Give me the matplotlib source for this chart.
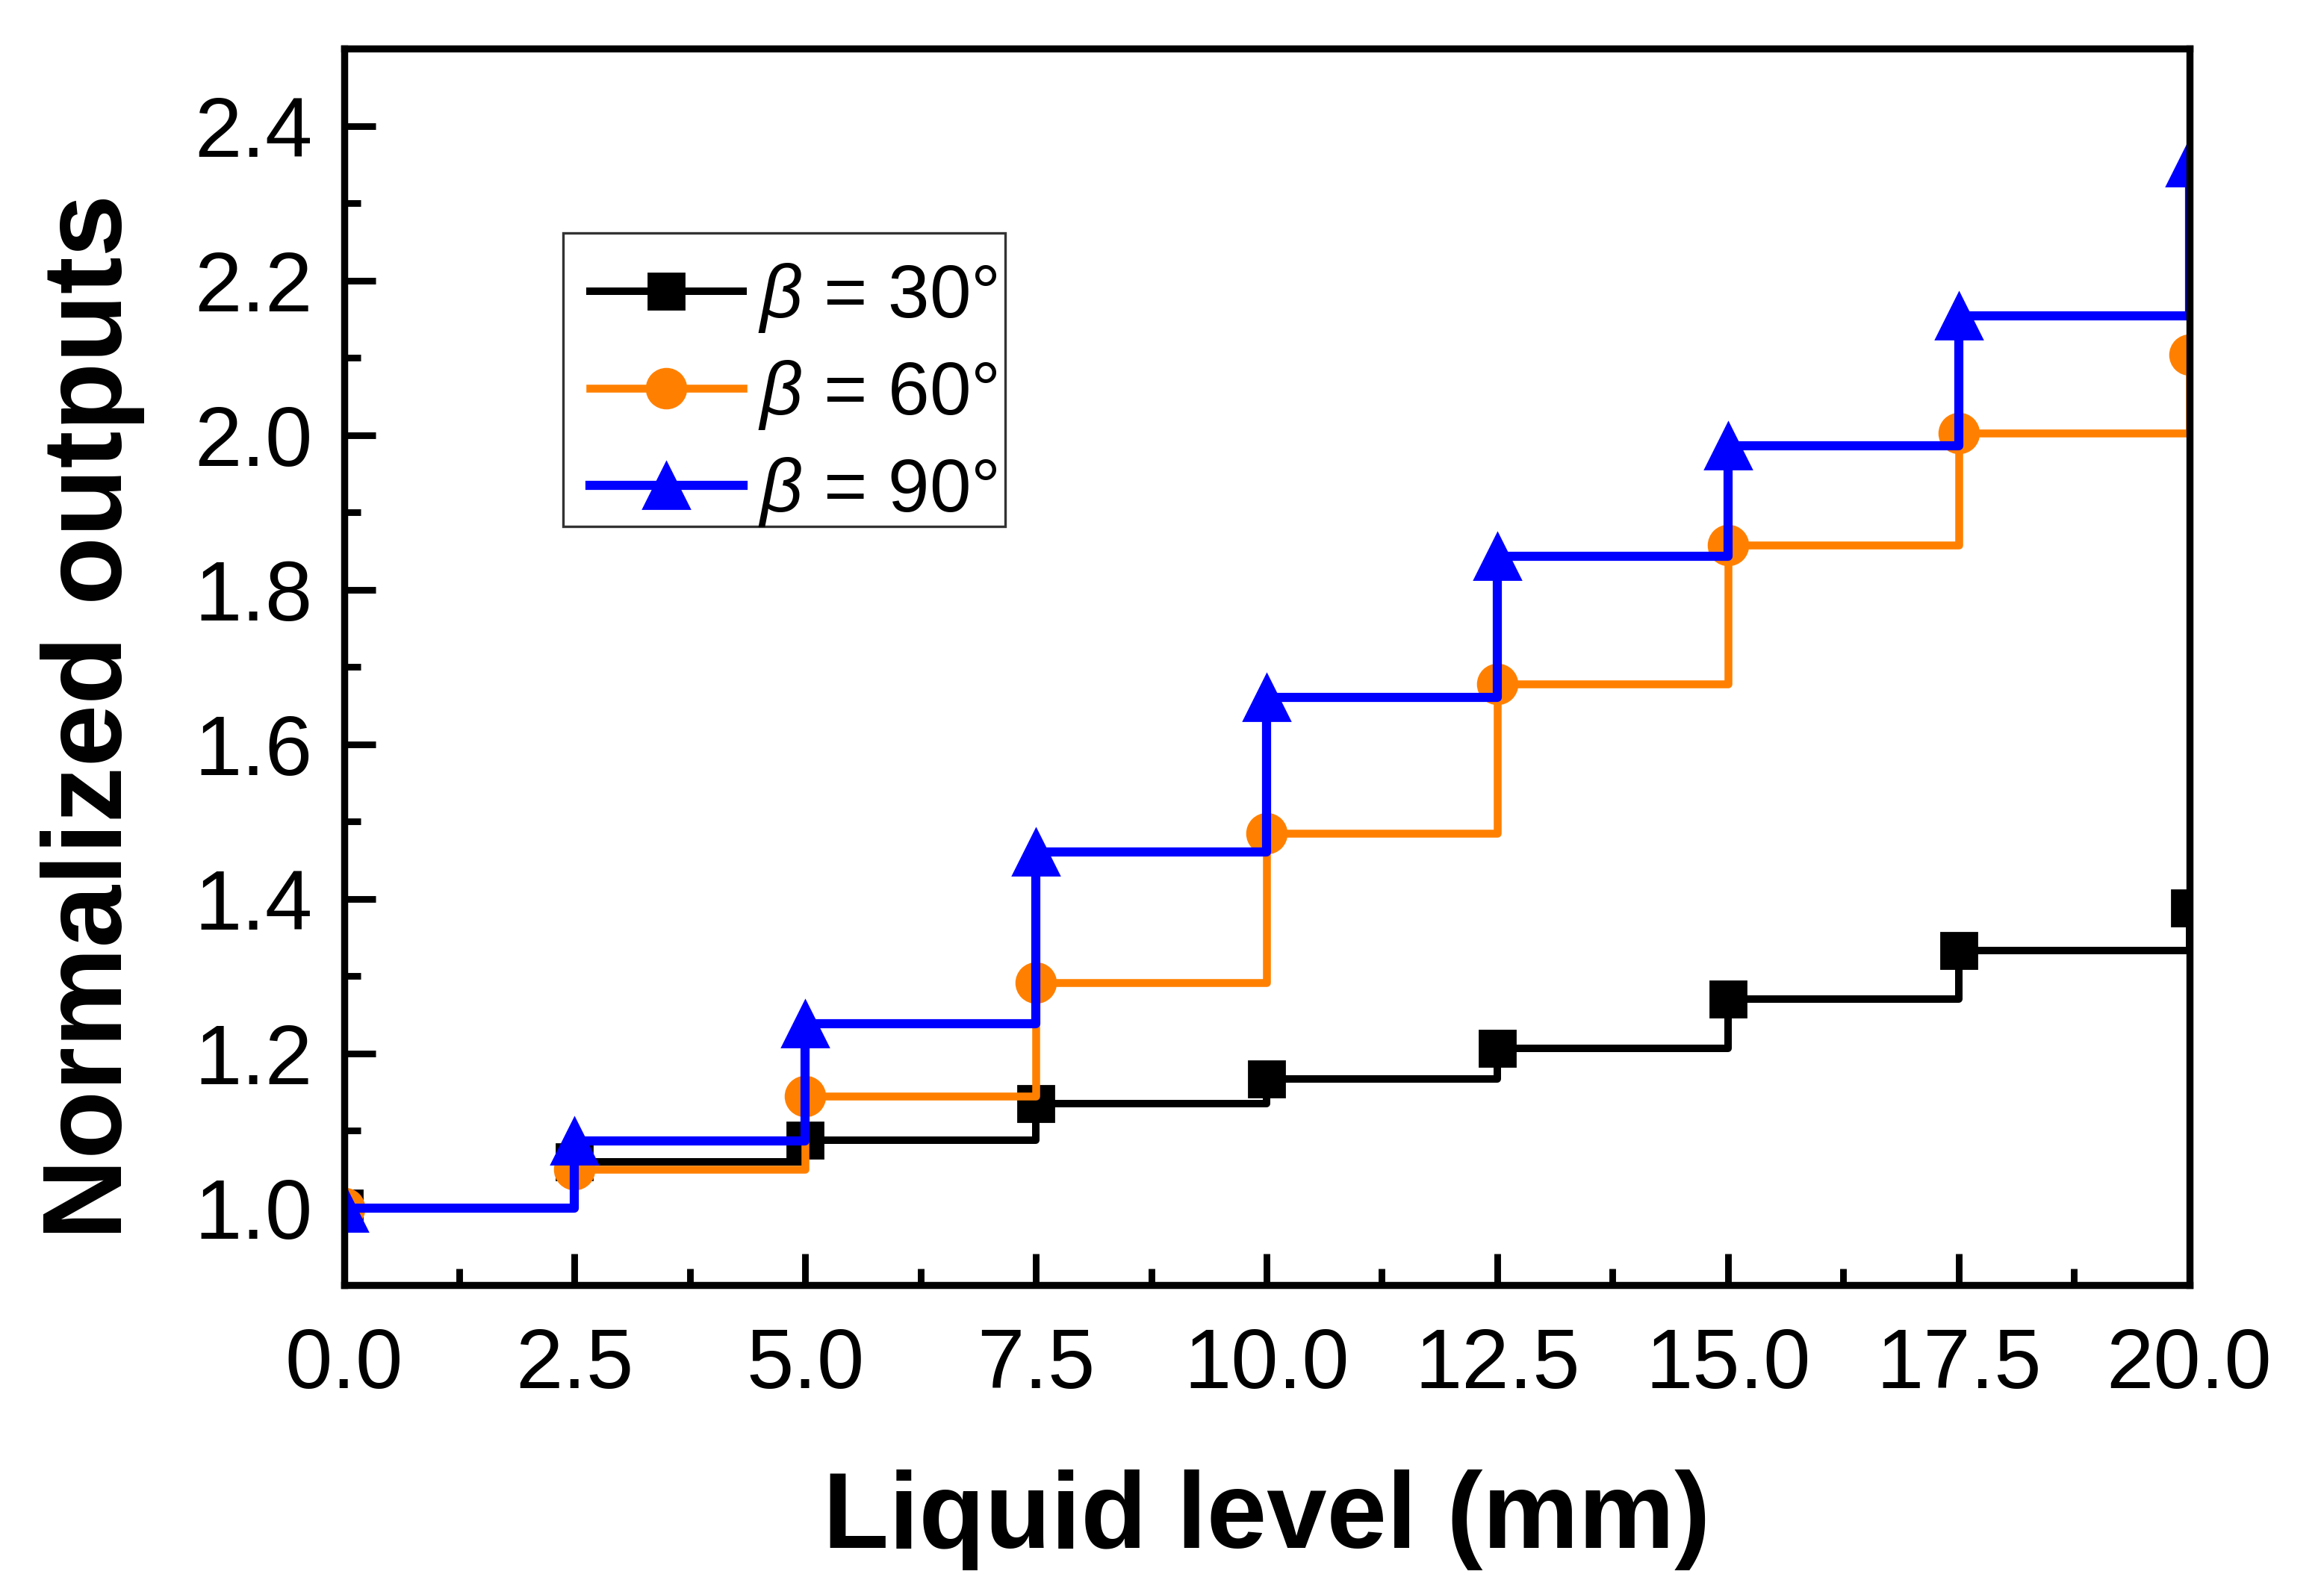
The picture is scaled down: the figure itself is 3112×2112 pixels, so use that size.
import matplotlib
matplotlib.use("Agg")
import matplotlib.pyplot as plt
from matplotlib.patches import Rectangle
from matplotlib.ticker import MultipleLocator, FormatStrFormatter

plt.rcParams['font.family'] = ['Liberation Sans', 'DejaVu Sans']
plt.rcParams['mathtext.fontset'] = 'custom'
plt.rcParams['mathtext.it'] = 'Liberation Sans:italic'
plt.rcParams['mathtext.rm'] = 'Liberation Sans'

# Data
liquid_level = [0.0, 2.5, 5.0, 7.5, 10.0, 12.5, 15.0, 17.5, 20.0]
beta30 = [1.000, 1.060, 1.088, 1.135, 1.167, 1.207, 1.270, 1.333, 1.388]
beta60 = [1.000, 1.050, 1.145, 1.292, 1.485, 1.678, 1.858, 2.003, 2.104]
beta90 = [1.000, 1.087, 1.238, 1.461, 1.661, 1.843, 1.986, 2.155, 2.353]
labels = [r'$\mathit{\beta}$ = 30°', r'$\mathit{\beta}$ = 60°', r'$\mathit{\beta}$ = 90°']
xticks = [0.0, 2.5, 5.0, 7.5, 10.0, 12.5, 15.0, 17.5, 20.0]
yticks = [1.0, 1.2, 1.4, 1.6, 1.8, 2.0, 2.2, 2.4]

fig = plt.figure(figsize=(15.56, 10.56), dpi=200)
ax = fig.add_axes([0.148, 0.185, 0.794, 0.784])

ax.plot(liquid_level, beta30, drawstyle='steps-post', color='black', lw=3.6,
        marker='s', ms=17, label=labels[0])
ax.plot(liquid_level, beta60, drawstyle='steps-post', color='#FF8000', lw=3.8,
        marker='o', ms=19, label=labels[1])
ax.plot(liquid_level, beta90, drawstyle='steps-post', color='#0000FF', lw=4.4,
        marker='^', ms=22, label=labels[2])

ax.set_xlim(0, 20)
ax.set_ylim(0.9, 2.5)
ax.set_xticks(xticks)
ax.set_yticks(yticks)
ax.xaxis.set_major_formatter(FormatStrFormatter('%.1f'))
ax.yaxis.set_major_formatter(FormatStrFormatter('%.1f'))
ax.xaxis.set_minor_locator(MultipleLocator(1.25))
ax.yaxis.set_minor_locator(MultipleLocator(0.1))

for s in ax.spines.values():
    s.set_linewidth(3.4)
ax.tick_params(which='major', direction='in', length=15, width=3.2,
               labelsize=41, top=False, right=False)
ax.tick_params(axis='x', which='major', pad=20)
ax.tick_params(axis='y', which='major', pad=15)
ax.tick_params(which='minor', direction='in', length=8, width=3.2,
               top=False, right=False)

ax.set_xlabel('Liquid level (mm)', fontsize=52, fontweight='bold')
ax.set_ylabel('Normalized outputs', fontsize=54, fontweight='bold')
ax.xaxis.set_label_coords(0.5, -0.149)
ax.yaxis.set_label_coords(-0.108, 0.46)

# legend frame drawn as a box in axes coordinates
ax.add_patch(Rectangle((0.1187, 0.6138), 0.2396, 0.2372, transform=ax.transAxes,
                       facecolor='white', edgecolor='#333333', linewidth=1.2,
                       zorder=4.9))
leg = ax.legend(loc='upper left', bbox_to_anchor=(0.121, 0.846),
                borderaxespad=0, fontsize=36, frameon=False,
                handlelength=2.05, handletextpad=0.2, labelspacing=0.32,
                borderpad=0.3)
leg.set_zorder(5)

fig.savefig('out.png', dpi=200)
